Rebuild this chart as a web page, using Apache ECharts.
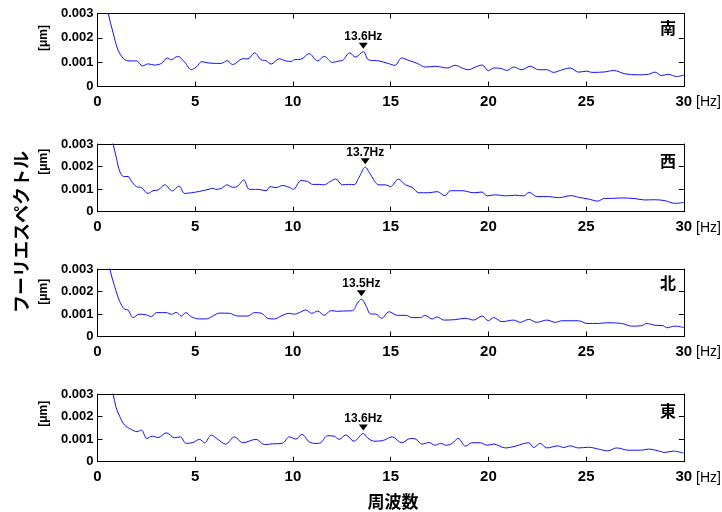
<!DOCTYPE html>
<html>
<head>
<meta charset="utf-8">
<script src="https://cdn.jsdelivr.net/npm/echarts@6/dist/echarts.min.js"></script>
<style>
  html, body { margin: 0; padding: 0; background: #fff; }
  #chart { width: 722px; height: 512px; }
</style>
</head>
<body>
<div id="chart"></div>
<script>
// Fourier amplitude spectra [μm] recorded in four directions, 0–30 Hz.

const panelNames = ['南', '西', '北', '東'];
const peakFreqs = [13.6, 13.7, 13.5, 13.6];
const xTicks = [0, 5, 10, 15, 20, 25, 30];
const yTicks = [0, 0.001, 0.002, 0.003];

const freqS = [0.3, 0.55, 0.8, 1.05, 1.3, 1.48, 1.75, 2.0, 2.3, 2.6, 2.9, 3.27, 3.57, 3.78, 4.1, 4.46, 4.8, 5.05, 5.34, 5.65, 6.07, 6.33, 6.63, 6.92, 7.43, 7.69, 8.03, 8.37, 8.62, 8.88, 9.3, 9.64, 9.9, 10.07, 10.41, 10.83, 11.26, 11.6, 12.02, 12.36, 12.53, 12.9, 13.2, 13.6, 13.86, 14.4, 14.9, 15.22, 15.56, 15.93, 16.36, 16.78, 17.3, 17.89, 18.3, 18.65, 18.99, 19.33, 19.68, 20.0, 20.27, 20.6, 20.95, 21.29, 21.7, 22.14, 22.57, 22.99, 23.33, 23.68, 24.18, 24.61, 25.03, 25.29, 25.97, 26.4, 26.99, 27.67, 28.18, 28.52, 28.86, 29.2, 29.62, 30.0];
const ampS = [0.0040, 0.0030, 0.0022, 0.0015, 0.00117, 0.00107, 0.00105, 0.00105, 0.00085, 0.00093, 0.00088, 0.00095, 0.00117, 0.0011, 0.00124, 0.001, 0.00069, 0.0008, 0.00102, 0.00097, 0.00095, 0.00095, 0.00106, 0.0009, 0.00114, 0.00114, 0.00138, 0.0011, 0.00106, 0.00092, 0.00114, 0.00105, 0.00103, 0.0011, 0.00112, 0.00135, 0.00105, 0.00124, 0.00099, 0.00105, 0.00107, 0.00138, 0.00121, 0.00143, 0.0011, 0.00105, 0.00094, 0.00087, 0.00117, 0.00107, 0.00095, 0.0008, 0.00083, 0.00076, 0.00087, 0.00076, 0.00069, 0.0008, 0.00088, 0.00065, 0.00076, 0.00075, 0.00066, 0.0008, 0.00069, 0.00083, 0.00069, 0.00069, 0.00058, 0.00066, 0.00076, 0.00059, 0.00063, 0.00058, 0.0006, 0.00066, 0.00052, 0.00048, 0.0005, 0.00059, 0.00045, 0.0005, 0.00041, 0.00047];

const freqW = [0.5, 0.8, 0.97, 1.14, 1.34, 1.56, 1.73, 1.99, 2.24, 2.59, 2.84, 3.1, 3.44, 3.83, 4.17, 4.46, 4.8, 5.22, 5.73, 5.9, 6.04, 6.33, 6.63, 6.92, 7.18, 7.48, 7.77, 8.2, 8.62, 8.83, 9.13, 9.47, 9.81, 10.02, 10.41, 10.75, 11.0, 11.34, 11.6, 11.89, 12.19, 12.53, 12.84, 13.13, 13.38, 13.7, 13.98, 14.4, 14.74, 14.99, 15.39, 15.76, 16.1, 16.44, 16.95, 17.38, 17.77, 18.06, 18.65, 19.25, 19.67, 19.93, 20.36, 20.87, 21.38, 21.8, 22.09, 22.48, 23.08, 23.59, 24.23, 24.61, 25.12, 25.6, 25.93, 26.31, 26.82, 27.5, 28.0, 28.5, 29.03, 29.54, 30.0];
const ampW = [0.0042, 0.003, 0.00237, 0.00178, 0.00156, 0.00156, 0.00136, 0.00111, 0.00107, 0.00081, 0.00093, 0.00096, 0.00119, 0.00092, 0.00114, 0.00081, 0.00084, 0.0009, 0.001, 0.00104, 0.00099, 0.00103, 0.00119, 0.00108, 0.00114, 0.00141, 0.00099, 0.00099, 0.00093, 0.00111, 0.00107, 0.00116, 0.00108, 0.00099, 0.00138, 0.00134, 0.00121, 0.00121, 0.00119, 0.00133, 0.00145, 0.00119, 0.00121, 0.0012, 0.00152, 0.00197, 0.00163, 0.00119, 0.00119, 0.00111, 0.00144, 0.00119, 0.00108, 0.00084, 0.00084, 0.00089, 0.00071, 0.00093, 0.00093, 0.00084, 0.00087, 0.0007, 0.00075, 0.0007, 0.00073, 0.0007, 0.00086, 0.00067, 0.00067, 0.00062, 0.00071, 0.00064, 0.00056, 0.00047, 0.00059, 0.00059, 0.00061, 0.00058, 0.00052, 0.00053, 0.00049, 0.00037, 0.00041];

const freqN = [0.4, 0.63, 0.88, 1.14, 1.39, 1.56, 1.82, 2.13, 2.5, 2.76, 3.01, 3.52, 3.78, 4.03, 4.29, 4.51, 4.8, 5.22, 5.56, 5.9, 6.24, 6.75, 7.18, 7.69, 8.03, 8.37, 8.71, 9.05, 9.39, 9.81, 10.07, 10.32, 10.66, 10.97, 11.26, 11.6, 11.94, 12.28, 12.53, 13.04, 13.3, 13.5, 13.72, 13.98, 14.23, 14.54, 14.92, 15.34, 15.77, 16.1, 16.53, 16.75, 17.12, 17.38, 17.72, 18.3, 18.82, 19.25, 19.67, 20.0, 20.27, 20.7, 21.29, 21.63, 22.06, 22.48, 22.99, 23.42, 23.76, 24.61, 25.04, 25.63, 26.05, 26.82, 27.33, 27.84, 28.09, 28.52, 28.94, 29.11, 29.54, 30.0];
const ampN = [0.0041, 0.003, 0.00222, 0.00155, 0.00121, 0.00118, 0.00084, 0.00099, 0.00096, 0.00088, 0.00106, 0.00106, 0.00099, 0.00107, 0.00091, 0.00106, 0.00088, 0.00078, 0.00078, 0.00091, 0.00104, 0.00103, 0.00091, 0.00091, 0.00106, 0.00104, 0.00081, 0.00078, 0.00091, 0.00103, 0.00099, 0.00106, 0.00118, 0.00103, 0.00113, 0.00094, 0.00115, 0.00112, 0.00113, 0.00115, 0.00148, 0.00166, 0.0014, 0.001, 0.001, 0.00081, 0.0011, 0.00094, 0.00094, 0.00084, 0.00084, 0.00094, 0.00078, 0.00087, 0.00073, 0.00075, 0.00081, 0.00073, 0.00091, 0.0007, 0.00084, 0.00066, 0.00073, 0.00063, 0.00076, 0.00063, 0.00073, 0.00063, 0.0007, 0.0007, 0.00058, 0.00058, 0.00061, 0.00058, 0.00046, 0.00048, 0.00058, 0.0005, 0.00048, 0.00039, 0.00046, 0.0004];

const freqE = [0.5, 0.8, 0.94, 1.14, 1.39, 1.73, 2.02, 2.24, 2.53, 2.81, 3.1, 3.52, 3.95, 4.23, 4.54, 4.88, 5.22, 5.48, 5.82, 6.16, 6.55, 7.01, 7.43, 8.11, 8.54, 8.96, 9.47, 9.81, 10.15, 10.46, 10.83, 11.17, 11.43, 11.77, 12.11, 12.36, 12.7, 13.13, 13.6, 13.81, 14.15, 14.57, 15.08, 15.56, 16.02, 16.28, 16.62, 16.95, 17.27, 17.55, 17.84, 18.14, 18.45, 18.83, 19.16, 19.59, 19.93, 20.27, 20.87, 21.38, 22.06, 22.32, 22.65, 22.99, 23.55, 23.84, 24.18, 24.61, 25.12, 25.63, 26.1, 26.56, 27.15, 27.84, 28.18, 28.69, 29.03, 29.45, 30.0];
const ampE = [0.0042, 0.003, 0.00244, 0.002, 0.00162, 0.00143, 0.00133, 0.0014, 0.00103, 0.00113, 0.00107, 0.00128, 0.00106, 0.0011, 0.00081, 0.00085, 0.00099, 0.00084, 0.00118, 0.00099, 0.00078, 0.0011, 0.00084, 0.00099, 0.00076, 0.00079, 0.00082, 0.0011, 0.001, 0.00121, 0.00088, 0.00081, 0.00085, 0.00115, 0.00113, 0.00099, 0.00118, 0.00091, 0.00125, 0.00106, 0.00091, 0.00093, 0.0011, 0.00084, 0.00103, 0.001, 0.00078, 0.00085, 0.00073, 0.00081, 0.00073, 0.00081, 0.00103, 0.00069, 0.00084, 0.00084, 0.00073, 0.00078, 0.00061, 0.00069, 0.00084, 0.00063, 0.00081, 0.00061, 0.0007, 0.00063, 0.0007, 0.00061, 0.00064, 0.00056, 0.00048, 0.00061, 0.00051, 0.00051, 0.00056, 0.00048, 0.00041, 0.00047, 0.00038];

const freqs = [freqS, freqW, freqN, freqE];
const amps = [ampS, ampW, ampN, ampE];

// panel layout
const panelTops = [13.5, 144, 269, 394];
const panelHeights = [73, 67.7, 67.5, 67.7];
const unitShift = [24, 32, 22, 28];
const nameY = [27.5, 161, 282.5, 410.5];

const LATIN = '"Liberation Sans", Arial, Helvetica, sans-serif';
const CJK = '"Noto Sans CJK JP", "Noto Sans CJK SC", sans-serif';
const INK = '#000';

const grid = [], xAxis = [], yAxis = [], series = [];

for (let i = 0; i < 4; i++) {
  grid.push({ left: 97.5, right: 38, top: panelTops[i], height: panelHeights[i], containLabel: false });

  const lineStyle = { color: INK, width: 1 };
  // bottom axis with labels
  xAxis.push({
    type: 'value', gridIndex: i, min: 0, max: 30, interval: 5, position: 'bottom',
    axisLine: { show: true, onZero: false, lineStyle },
    axisTick: { show: true, inside: true, length: 5, lineStyle },
    splitLine: { show: false },
    axisLabel: {
      show: true, margin: 8, color: INK, fontFamily: LATIN, fontWeight: 'bold', fontSize: 15,
      formatter: v => xTicks.includes(v) ? String(v) : ''
    },
    name: '[Hz]', nameLocation: 'end', nameGap: 11,
    nameTextStyle: {
      color: INK, fontFamily: LATIN, fontSize: 14, fontWeight: 'normal',
      align: 'left', verticalAlign: 'top', padding: [9, 0, 0, 0]
    }
  });
  // top box edge with inward ticks
  xAxis.push({
    type: 'value', gridIndex: i, min: 0, max: 30, interval: 5, position: 'top',
    axisLine: { show: true, onZero: false, lineStyle },
    axisTick: { show: true, inside: true, length: 5, lineStyle },
    splitLine: { show: false }, axisLabel: { show: false }
  });
  // left axis with labels
  yAxis.push({
    type: 'value', gridIndex: i, min: 0, max: 0.003, interval: 0.001, position: 'left',
    axisLine: { show: true, onZero: false, lineStyle },
    axisTick: { show: true, inside: true, length: 5, lineStyle },
    splitLine: { show: false },
    axisLabel: {
      show: true, margin: 4, color: INK, fontFamily: LATIN, fontWeight: 'bold', fontSize: 13,
      formatter: v => {
        const t = yTicks.find(k => Math.abs(k - v) < 1e-9);
        return t === undefined ? '' : (t === 0 ? '0' : t.toFixed(3));
      }
    },
    name: '[μm]', nameLocation: 'middle', nameGap: 47, nameRotate: 90,
    nameTextStyle: {
      color: INK, fontFamily: LATIN, fontSize: 12, fontWeight: 'bold',
      padding: [0, 0, 0, unitShift[i]]
    }
  });
  // right box edge with inward ticks
  yAxis.push({
    type: 'value', gridIndex: i, min: 0, max: 0.003, interval: 0.001, position: 'right',
    axisLine: { show: true, onZero: false, lineStyle },
    axisTick: { show: true, inside: true, length: 5, lineStyle },
    splitLine: { show: false }, axisLabel: { show: false }
  });

  const f = freqs[i], a = amps[i];
  const pk = peakFreqs[i];
  const pkIdx = f.findIndex(v => Math.abs(v - pk) < 1e-9);

  series.push({
    type: 'line', name: panelNames[i],
    xAxisIndex: 2 * i, yAxisIndex: 2 * i,
    data: f.map((x, k) => [x, a[k]]),
    showSymbol: false, smooth: 0.35, clip: true,
    lineStyle: { color: '#1010ff', width: 1 },
    silent: true, animation: false,
    markPoint: {
      symbol: 'path://M0,0L10,0L5,7Z',
      symbolSize: [9, 6],
      symbolOffset: [0, -6],
      itemStyle: { color: INK },
      label: {
        show: true, position: 'top', distance: 0,
        color: INK, fontFamily: LATIN, fontWeight: 'bold', fontSize: 12,
        formatter: () => pk.toFixed(1) + 'Hz'
      },
      data: [{ coord: [pk, a[pkIdx]] }],
      animation: false
    }
  });
}

const graphic = [];
for (let i = 0; i < 4; i++) {
  graphic.push({
    type: 'text', x: 676, y: nameY[i],
    style: {
      text: panelNames[i], fill: INK, font: 'bold 16px ' + CJK,
      textAlign: 'right', textVerticalAlign: 'middle'
    }
  });
}
graphic.push({
  type: 'text', x: 21, y: 232, rotation: Math.PI / 2,
  style: {
    text: 'フーリエスペクトル', fill: INK, font: 'bold 18px ' + CJK,
    textAlign: 'center', textVerticalAlign: 'middle'
  }
});
graphic.push({
  type: 'text', x: 393, y: 501.5,
  style: {
    text: '周波数', fill: INK, font: 'bold 17px ' + CJK,
    textAlign: 'center', textVerticalAlign: 'middle'
  }
});

const chart = echarts.init(document.getElementById('chart'), null, { renderer: 'canvas' });
chart.setOption({
  backgroundColor: '#fff',
  animation: false,
  grid, xAxis, yAxis, series, graphic
});
</script>
</body>
</html>
